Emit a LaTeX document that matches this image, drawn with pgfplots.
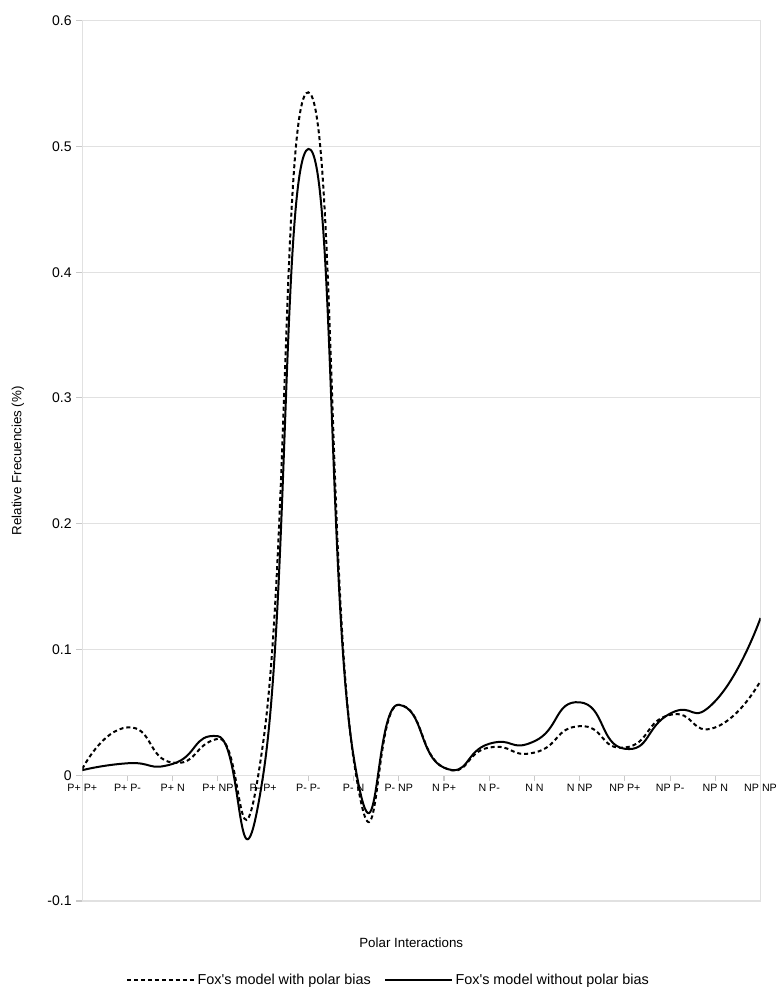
\documentclass[border=0pt]{standalone}
\usepackage{pgfplots}
\pgfplotsset{compat=1.18}
\usepackage{fontspec}
\setmainfont{Liberation Sans}
\newfontfamily\lsans{Liberation Sans}
\definecolor{gridgray}{RGB}{225,225,225}
\definecolor{tickgray}{RGB}{200,200,200}
\begin{document}
\begin{tikzpicture}
\begin{axis}[
  name=ax,
  scale only axis,
  width=508.5pt, height=660pt,
  xmin=0, xmax=15, ymin=-0.1, ymax=0.6,
  axis x line*=middle,
  axis y line*=left,
  hide obscured x ticks=false,
  hide obscured y ticks=false,
  axis line style={gridgray, line width=0.8pt},
  xtick={0,...,15},
  xticklabels={P+ P+, P+ P-, P+ N, P+ NP, P- P+, P- P-, P- N, P- NP, N P+, N P-, N N, N NP, NP P+, NP P-, NP N, NP NP},
  ytick={-0.1,0,0.1,0.2,0.3,0.4,0.5,0.6},
  yticklabels={-0.1,0,0.1,0.2,0.3,0.4,0.5,0.6},
  ymajorgrids,
  grid style={gridgray, line width=0.8pt},
  tick style={tickgray, line width=0.8pt},
  major tick length=4.5pt,
  tick align=outside,
  extra x ticks={15},
  extra x tick labels={},
  extra x tick style={grid=major, major tick length=0pt},
  xticklabel style={font=\fontsize{8}{9.6}\selectfont, inner sep=2pt},
  yticklabel style={font=\fontsize{10.5}{12}\selectfont},
  xlabel={Polar Interactions},
  xlabel style={at={(axis description cs:0.485,-0.0477)}, anchor=center, font=\fontsize{10}{12}\selectfont},
  ylabel={Relative Frecuencies (\%)},
  ylabel style={at={(axis description cs:-0.0948,0.5)}, anchor=center, font=\fontsize{10}{12}\selectfont},
  legend style={at={(axis description cs:0.452,-0.0898)}, anchor=center, draw=none, fill=none,
    legend columns=2, font=\lsans\fontsize{10.8}{13}\selectfont,
    /tikz/every even column/.append style={column sep=8pt}},
  legend image code/.code={\draw[#1] (0pt,0pt) -- (50pt,0pt);},
]
\addplot[black, line width=1.5pt, dash pattern=on 3pt off 2.2pt, smooth, tension=1] coordinates {
 (0,0.005) (1,0.038) (2,0.010) (3,0.029) (4,0.026) (5,0.543) (6,0.013) (7,0.056)
 (8,0.006) (9,0.022) (10,0.018) (11,0.039) (12,0.022) (13,0.048) (14,0.038) (15,0.075)};
\addlegendentry{Fox's model with polar bias}
\addplot[black, line width=1.5pt, smooth, tension=1] coordinates {
 (0,0.004) (1,0.0095) (2,0.009) (3,0.031) (4,0.0) (5,0.498) (6,0.015) (7,0.056)
 (8,0.006) (9,0.025) (10,0.027) (11,0.058) (12,0.021) (13,0.049) (14,0.059) (15,0.125)};
\addlegendentry{Fox's model without polar bias}
\end{axis}
\pgfresetboundingbox
\path ([shift={(-61.7pt,-68.25pt)}]ax.south west) rectangle ([shift={(13.3pt,15.5pt)}]ax.north east);
\end{tikzpicture}
\end{document}
